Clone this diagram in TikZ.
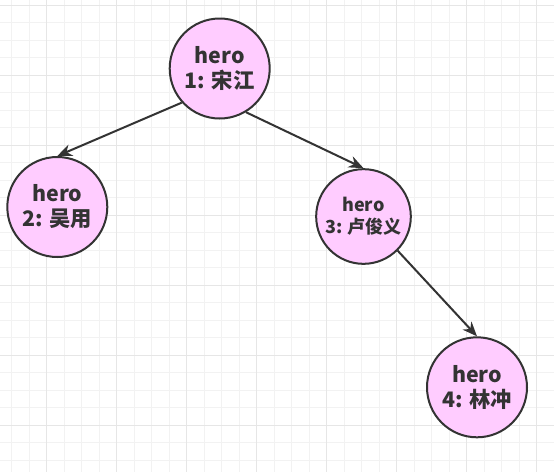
\documentclass[tikz,border=0pt]{standalone}
\usepackage{fontspec}
\setmainfont{Noto Sans CJK SC}
\usetikzlibrary{arrows.meta}
\definecolor{heropink}{RGB}{255,204,255}
\definecolor{edgegray}{RGB}{51,51,51}
\definecolor{gridminor}{RGB}{242,242,242}
\definecolor{gridmajor}{RGB}{230,230,230}

\begin{document}
\begin{tikzpicture}[x=0.75pt,y=0.75pt,yscale=-1,xscale=1,
  hero/.style={circle,draw=edgegray,line width=1.5,fill=heropink,minimum size=75pt,inner sep=0pt,align=center,text=edgegray,font=\bfseries\fontsize{16}{18.75}\selectfont},
  herosmall/.style={hero,minimum size=71pt,font=\bfseries\fontsize{13.5}{16.5}\selectfont},
  link/.style={draw=edgegray,line width=1.5,-{Stealth[length=11pt,width=9pt]}}]
\useasboundingbox (0,0) rectangle (554,472);
\fill[white] (0,0) rectangle (554,472);

%Grid: minor lines
\foreach \k in {0,...,30} \draw[gridminor,line width=0.75] ({11.8+17.5*\k},0) -- ({11.8+17.5*\k},472);
\foreach \k in {0,...,26} \draw[gridminor,line width=0.75] (0,{5+17.5*\k}) -- (554,{5+17.5*\k});
%Grid: major lines
\foreach \k in {2,6,...,30} \draw[gridmajor,line width=0.75] ({11.8+17.5*\k},0) -- ({11.8+17.5*\k},472);
\foreach \k in {0,4,...,24} \draw[gridmajor,line width=0.75] (0,{5+17.5*\k}) -- (554,{5+17.5*\k});

%Shape: Circle
\node[hero] (hero1) at (219.7,68.5) {hero\\1: 宋江};
%Shape: Circle
\node[hero] (hero2) at (57.3,207) {hero\\2: 吴用};
%Shape: Circle
\node[herosmall] (hero3) at (363.5,216.5) {hero\\3: 卢俊义};
%Shape: Circle
\node[hero] (hero4) at (477,387.3) {hero\\4: 林冲};

%Straight Lines
\draw[link] (hero1.222) -- (hero2.north);
\draw[link] (hero1.-59) -- (hero3.north);
\draw[link] (hero3.-45) -- (hero4.north);

\end{tikzpicture}
\end{document}
